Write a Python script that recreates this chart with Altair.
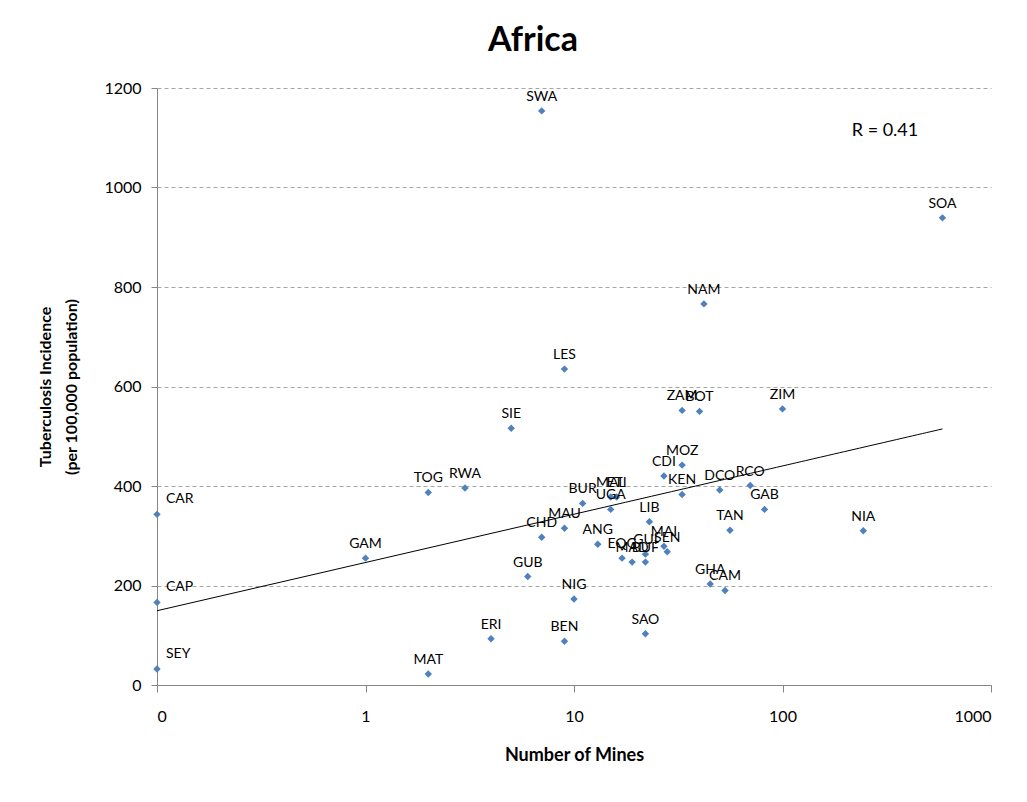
import altair as alt
import pandas as pd

countries = ["SWA", "SOA", "NAM", "LES", "ZAM", "BOT", "ZIM", "SIE", "MOZ", "CDI",
             "KEN", "DCO", "RCO", "GAB", "TAN", "NIA", "GHA", "CAM", "BUR", "UGA",
             "MAL", "ETI", "MAU", "CHD", "ANG", "GUB", "NIG", "LIB", "EQG", "MAD",
             "BUF", "GUI", "MAI", "SEN", "TOG", "RWA", "GAM", "CAR", "CAP", "SEY",
             "MAT", "ERI", "BEN", "SAO"]
# number of mines (0 plotted at 0.1 on the log axis)
mines = [7, 585, 42, 9, 33, 40, 100, 5, 33, 27,
         33, 50, 70, 82, 56, 244, 45, 53, 11, 15,
         15, 16, 9, 7, 13, 6, 10, 23, 17, 19,
         22, 22, 27, 28, 2, 3, 1, 0.1, 0.1, 0.1,
         2, 4, 9, 22]
incidence = [1154, 939, 766, 635, 552, 550, 555, 516, 442, 420,
             383, 392, 401, 353, 311, 310, 203, 190, 365, 353,
             378, 378, 315, 297, 283, 218, 173, 328, 255, 247,
             247, 263, 279, 268, 387, 396, 255, 343, 166, 32,
             22, 93, 88, 103]

df = pd.DataFrame({"country": countries, "mines": mines, "tb": incidence})

FONT = "Lato"

x_enc = alt.X("mines:Q",
              scale=alt.Scale(type="log", domain=[0.1, 1000], nice=False),
              axis=alt.Axis(values=[0.1, 1, 10, 100, 1000],
                            labelExpr="datum.value < 0.5 ? '0' : format(datum.value, 'd')",
                            grid=False, tickSize=7, labelPadding=16,
                            title="Number of Mines", titlePadding=22))
y_enc = alt.Y("tb:Q",
              scale=alt.Scale(domain=[0, 1200], nice=False),
              axis=alt.Axis(values=[0, 200, 400, 600, 800, 1000, 1200], format="d",
                            tickSize=6, labelPadding=10,
                            gridDash=[4, 3], gridColor="#a6a6a6", gridWidth=1,
                            title=["Tuberculosis Incidence", "(per 100,000 population)"],
                            titleLineHeight=26, titlePadding=24))

base = alt.Chart(df)

points = base.mark_point(shape="diamond", filled=True, size=55, color="#4F81BD", opacity=1).encode(
    x=x_enc, y=y_enc)

labels = base.transform_filter("datum.mines >= 0.5").mark_text(
    dy=-14, fontSize=14, font=FONT, color="#000000").encode(
    x="mines:Q", y="tb:Q", text="country:N")

labels0 = base.transform_filter("datum.mines < 0.5").mark_text(
    dy=-15, dx=9, align="left", fontSize=14, font=FONT, color="#000000").encode(
    x="mines:Q", y="tb:Q", text="country:N")

trend = base.transform_regression("mines", "tb", method="log").mark_line(
    color="#000000", strokeWidth=1).encode(x="mines:Q", y="tb:Q")

rtext = alt.Chart(pd.DataFrame({"t": ["R = 0.41"]})).mark_text(
    fontSize=18, font=FONT, color="#000000").encode(
    x=alt.value(728), y=alt.value(43), text="t:N")

chart = alt.layer(trend, points, labels, labels0, rtext).properties(
    width=834, height=597,
    title=alt.TitleParams("Africa", fontSize=34, font=FONT, fontWeight="bold",
                          anchor="middle", dx=-41, offset=22, color="#000000"),
    autosize=alt.AutoSizeParams(type="none"),
    padding={"left": 149, "top": 80, "right": 28, "bottom": 100},
).configure_view(stroke=None).configure_axis(
    domainColor="#868686", tickColor="#868686",
    labelFont=FONT, labelFontSize=16, labelColor="#000000",
    titleFont=FONT, titleFontSize=18, titleFontWeight="bold", titleColor="#000000",
).configure_axisY(titleFontSize=16)

chart.save("out.html", embed_options={"renderer": "svg", "actions": False})
